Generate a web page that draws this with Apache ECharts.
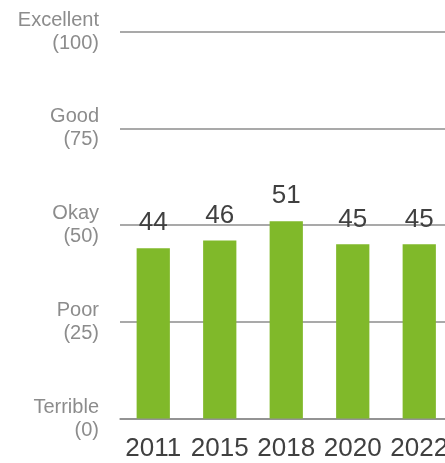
<!DOCTYPE html>
<html>
<head>
<meta charset="utf-8">
<script src="https://cdn.jsdelivr.net/npm/echarts@6/dist/echarts.min.js"></script>
<style>
html,body{margin:0;padding:0;background:#fff;overflow:hidden;width:445px;height:463px;}
#chart{width:453px;height:463px;}
</style>
</head>
<body>
<div id="chart"></div>
<script>
const years = ['2011', '2015', '2018', '2020', '2022'];
const scores = [44, 46, 51, 45, 45];
const ratingNames = {0: 'Terrible', 25: 'Poor', 50: 'Okay', 75: 'Good', 100: 'Excellent'};

const chart = echarts.init(document.getElementById('chart'), null, {renderer: 'canvas'});
chart.setOption({
  animation: false,
  grid: {left: 120, top: 31.5, right: 0.5, bottom: 44.5, containLabel: false},
  xAxis: {
    type: 'category',
    data: years,
    axisLine: {show: true, lineStyle: {color: '#8c8c8c', width: 1.5}},
    axisTick: {show: false},
    axisLabel: {color: '#404040', fontSize: 26, fontFamily: 'Liberation Sans, Arial, sans-serif', margin: 17, interval: 0}
  },
  yAxis: {
    type: 'value',
    min: 0, max: 100, interval: 25,
    axisLine: {show: false},
    axisTick: {show: false},
    splitLine: {lineStyle: {color: '#8c8c8c', width: 1.5}},
    axisLabel: {
      color: '#8c8c8c', fontSize: 20, lineHeight: 23, margin: 21, align: 'right',
      fontFamily: 'Liberation Sans, Arial, sans-serif',
      formatter: v => ratingNames[v] + '\n(' + v + ')'
    }
  },
  series: [{
    type: 'bar',
    data: scores,
    barWidth: '50%',
    itemStyle: {color: '#80b92a'},
    label: {show: true, position: 'top', distance: 12, color: '#404040', fontSize: 26, fontFamily: 'Liberation Sans, Arial, sans-serif'}
  }]
});
</script>
</body>
</html>
